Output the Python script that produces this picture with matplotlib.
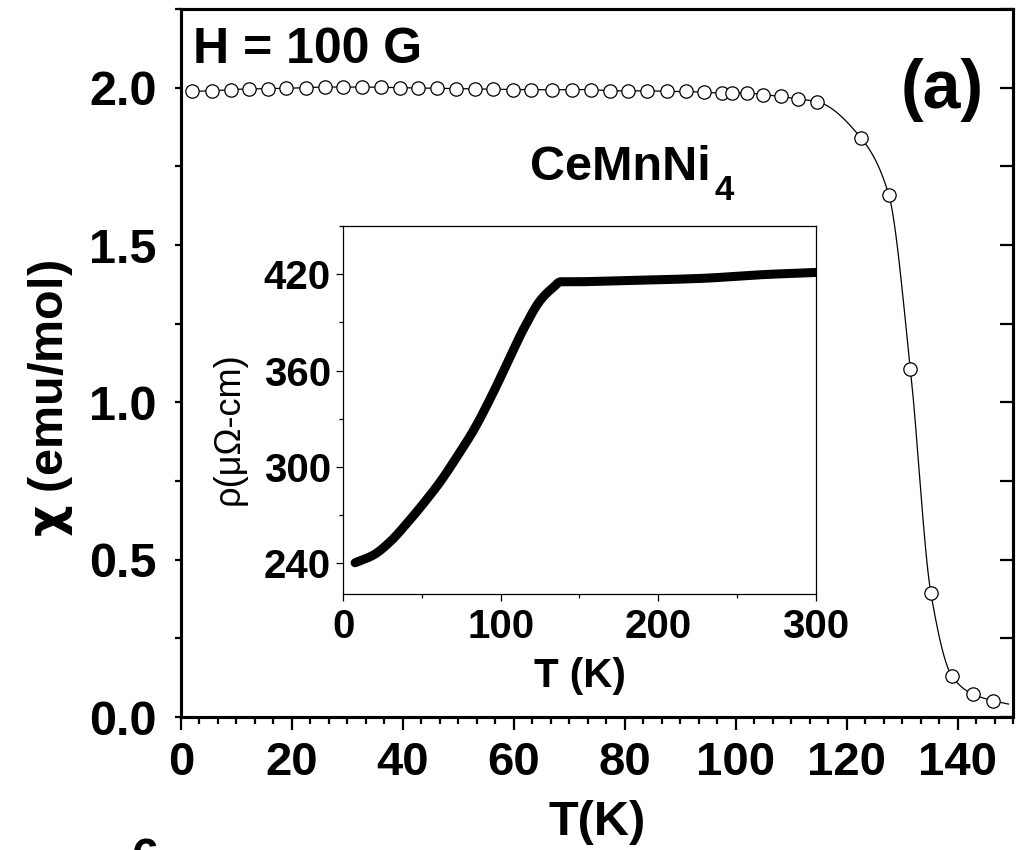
import numpy as np
import matplotlib
matplotlib.use("Agg")
import matplotlib.pyplot as plt
from matplotlib.ticker import AutoMinorLocator, FormatStrFormatter

plt.rcParams['font.family'] = ['Liberation Sans', 'DejaVu Sans']
plt.rcParams['font.weight'] = 'bold'

# ---- main panel data: susceptibility at H = 100 G ----
T_chi = [2.0, 5.5, 9.0, 12.3, 15.7, 19.0, 22.5, 25.9, 29.2, 32.7, 36.1, 39.5,
         42.8, 46.2, 49.5, 53.0, 56.3, 59.8, 63.1, 66.8, 70.5, 73.9, 77.3,
         80.6, 84.1, 87.6, 91.0, 94.3, 97.6, 99.4, 102.1, 104.9, 108.1, 111.3,
         114.6, 122.6, 127.6, 131.5, 135.2, 139.0, 142.7, 146.4]
chi = [1.988, 1.990, 1.994, 1.996, 1.997, 1.998, 2.000, 2.002, 2.002, 2.002,
       2.001, 2.000, 1.999, 1.998, 1.997, 1.996, 1.995, 1.994, 1.994, 1.993,
       1.994, 1.994, 1.990, 1.990, 1.990, 1.988, 1.988, 1.985, 1.983, 1.983,
       1.983, 1.978, 1.972, 1.964, 1.956, 1.840, 1.660, 1.107, 0.393, 0.130,
       0.073, 0.052]
# where the guide line leaves the plot on the right
T_line_end = [149.2]
chi_line_end = [0.041]

# ---- inset data: resistivity ----
T_rho = [7.5, 19.1, 29.7, 40.4, 51.0, 61.6, 72.2, 82.8, 93.4, 104.1, 114.7,
         125.3, 133.8, 138.0, 146.5, 173.5, 227.0, 269.5, 300.0]
rho = [240.0, 244.8, 253.1, 264.6, 277.1, 290.6, 306.2, 322.8, 342.6, 364.5,
       386.3, 404.0, 412.3, 415.4, 415.4, 416.0, 417.5, 420.0, 421.2]

main_xticks = [0, 20, 40, 60, 80, 100, 120, 140]
main_yticks = [0.0, 0.5, 1.0, 1.5, 2.0]
inset_xticks = [0, 100, 200, 300]
inset_yticks = [240, 300, 360, 420]


def pchip(x, y, xn):
    x = np.asarray(x, float)
    y = np.asarray(y, float)
    h = np.diff(x)
    d = np.diff(y) / h
    n = len(x)
    m = np.zeros(n)
    for k in range(1, n - 1):
        if d[k - 1] * d[k] > 0:
            w1 = 2 * h[k] + h[k - 1]
            w2 = h[k] + 2 * h[k - 1]
            m[k] = (w1 + w2) / (w1 / d[k - 1] + w2 / d[k])
    m[0] = d[0]
    m[-1] = d[-1]
    idx = np.clip(np.searchsorted(x, xn) - 1, 0, n - 2)
    t = (xn - x[idx]) / h[idx]
    h00 = 2 * t**3 - 3 * t**2 + 1
    h10 = t**3 - 2 * t**2 + t
    h01 = -2 * t**3 + 3 * t**2
    h11 = t**3 - t**2
    return (h00 * y[idx] + h10 * h[idx] * m[idx] + h01 * y[idx + 1]
            + h11 * h[idx] * m[idx + 1])


fig = plt.figure(figsize=(10.22, 8.5), dpi=100)
ax = fig.add_axes([0.17710, 0.15647, 0.81409, 0.83294])

Tl = np.array(T_chi + T_line_end)
cl = np.array(chi + chi_line_end)
Tfine = np.linspace(Tl[0], Tl[-1], 1500)
ax.plot(Tfine, pchip(Tl, cl, Tfine), color='black', lw=0.9, zorder=2)
ax.plot(T_chi, chi, 'o', ls='none', mfc='white', mec='black', ms=9.6,
        mew=0.9, zorder=3)

ax.set_xlim(0, 150)
ax.set_ylim(0, 2.25)
ax.set_xticks(main_xticks)
ax.set_yticks(main_yticks)
ax.xaxis.set_minor_locator(AutoMinorLocator(6))
ax.yaxis.set_minor_locator(AutoMinorLocator(2))
ax.yaxis.set_major_formatter(FormatStrFormatter('%.1f'))
ax.tick_params(axis='x', which='major', direction='out', length=9.4,
               width=1.6, labelsize=34, pad=8, top=False)
ax.tick_params(axis='x', which='minor', direction='out', length=5,
               width=1.6, top=False)
ax.tick_params(axis='y', which='both', direction='out', length=4.5,
               width=1.6, right=False)
ax.tick_params(axis='y', which='major', labelsize=35, pad=13)
for s in ax.spines.values():
    s.set_linewidth(2.2)

ax2 = ax.twinx()
ax2.set_ylim(0, 2.25)
ax2.set_yticks(main_yticks)
ax2.yaxis.set_minor_locator(AutoMinorLocator(2))
ax2.tick_params(axis='y', which='both', direction='in', length=9.4,
                width=1.6, labelright=False, right=True, left=False)
for s in ax2.spines.values():
    s.set_linewidth(2.2)

ax.set_xlabel('T(K)', fontsize=35, fontweight='bold', labelpad=11)
ax.set_ylabel(r'$\mathbf{\chi}$ (emu/mol)', fontsize=35, fontweight='bold',
              math_fontfamily='dejavusans')
ax.yaxis.set_label_coords(-0.127, 0.45)

ax.text(0.0144, 0.924, 'H = 100 G', transform=ax.transAxes, fontsize=36,
        fontweight='bold', ha='left', va='baseline')
ax.text(0.915, 0.860, '(a)', transform=ax.transAxes, fontsize=49,
        fontweight='bold', ha='center', va='baseline')
ax.text(0.4195, 0.758, 'CeMnNi', transform=ax.transAxes,
        fontsize=35, fontweight='bold', ha='left', va='baseline')
ax.text(0.6415, 0.730, '4', transform=ax.transAxes,
        fontsize=25, fontweight='bold', ha='left', va='baseline')

fig.text(0.142, 0.0155, '6', fontsize=35, fontweight='bold', ha='center',
         va='top')

# ---- inset ----
axin = fig.add_axes([0.3359, 0.3008, 0.4622, 0.4333])
Trf = np.linspace(T_rho[0], T_rho[-1], 1500)
axin.plot(Trf, pchip(T_rho, rho, Trf), color='black', lw=6.5,
          solid_capstyle='round')
axin.set_xlim(0, 300)
axin.set_ylim(220.3, 450.2)
axin.set_xticks(inset_xticks)
axin.set_yticks(inset_yticks)
axin.xaxis.set_minor_locator(AutoMinorLocator(2))
axin.yaxis.set_minor_locator(AutoMinorLocator(2))
axin.tick_params(axis='both', which='major', direction='out', length=5,
                 width=0.9, labelsize=29, top=False, right=False)
axin.tick_params(axis='x', which='major', pad=5)
axin.tick_params(axis='y', which='major', pad=4)
axin.tick_params(axis='both', which='minor', direction='out', length=3,
                 width=0.9, top=False, right=False)
for s in axin.spines.values():
    s.set_linewidth(0.9)
axin.set_xlabel('T (K)', fontsize=29, fontweight='bold', labelpad=8)
axin.set_ylabel('ρ(μΩ-cm)', fontsize=26, fontweight='normal')
axin.yaxis.set_label_coords(-0.205, 0.45)

fig.savefig('out.png', dpi=100)
